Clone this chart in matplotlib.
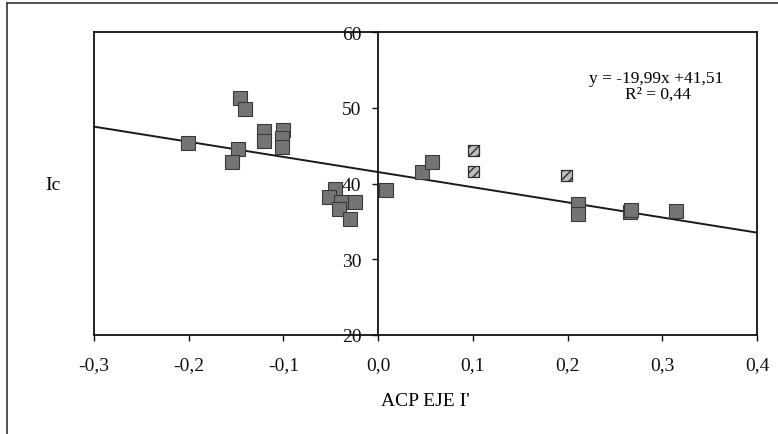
import numpy as np
import matplotlib.pyplot as plt
from matplotlib.lines import Line2D

# data
acp_x = [-0.201, -0.146, -0.141, -0.148, -0.154, -0.120, -0.121, -0.100, -0.101, -0.102,
         -0.046, -0.052, -0.039, -0.024, -0.041, -0.030, 0.008, 0.046, 0.057,
         0.211, 0.211, 0.266, 0.267, 0.315]
ic_y = [45.4, 51.3, 49.9, 44.6, 42.9, 46.9, 45.6, 47.1, 46.0, 44.8,
        39.3, 38.2, 37.6, 37.6, 36.7, 35.3, 39.2, 41.5, 42.8,
        37.3, 36.0, 36.3, 36.5, 36.4]
# lighter, hatched looking points
acp_x_light = [0.101, 0.101, 0.199]
ic_y_light = [44.3, 41.6, 41.0]

slope = -19.99
intercept = 41.51
x_ticks = [-0.3, -0.2, -0.1, 0.0, 0.1, 0.2, 0.3, 0.4]
y_ticks = [20, 30, 40, 50, 60]

plt.rcParams['font.family'] = ['Liberation Serif', 'DejaVu Serif']

fig = plt.figure(figsize=(7.78, 4.35), dpi=100)
ax = fig.add_axes([0.1208, 0.2276, 0.8522, 0.6965])

# regression line over the full x range
xl = np.array([x_ticks[0], x_ticks[-1]])
ax.plot(xl, slope * xl + intercept, color='#1a1a1a', lw=1.4, zorder=2)

ax.plot(acp_x, ic_y, ls='none', marker='s', ms=9.6, mfc='#747474', mec='#3a3a3a',
        mew=0.8, zorder=3)
ax.scatter(acp_x_light, ic_y_light, marker='s', s=62, facecolor='#bdbdbd',
           edgecolor='#2e2e2e', hatch='////', linewidths=0.9, zorder=3)

ax.set_xlim(x_ticks[0], x_ticks[-1])
ax.set_ylim(y_ticks[0], y_ticks[-1])
ax.set_xticks(x_ticks)
ax.set_yticks(y_ticks)
ax.set_xticklabels([f'{v:.1f}'.replace('.', ',') for v in x_ticks])
ax.set_yticklabels([str(v) for v in y_ticks])

# y axis crosses at x = 0, frame kept around the plot area
ax.spines['left'].set_position(('data', 0))
for s in ['top', 'right', 'bottom', 'left']:
    ax.spines[s].set_linewidth(1.3)
    ax.spines[s].set_color('#111111')
ax.plot([0, 0], [0, 1], transform=ax.transAxes, color='#111111', lw=1.3, clip_on=False)

ax.tick_params(axis='both', direction='out', length=4, width=1, colors='#111111',
               labelsize=14)
ax.tick_params(axis='x', pad=11)
ax.tick_params(axis='y', pad=8)

ax.text(0.294, 53.9, 'y = -19,99x +41,51', ha='center', va='center', fontsize=12.5)
ax.text(0.295, 51.9, 'R² = 0,44', ha='center', va='center', fontsize=12.5)

fig.text(53 / 778, 1 - 185 / 435, 'Ic', ha='center', va='center', fontsize=14)
fig.text(425 / 778, 1 - 402 / 435, "ACP EJE I'", ha='center', va='center', fontsize=14)

# outer chart border (only top and left survive in the scan)
fig.add_artist(Line2D([7 / 778, 7 / 778], [0, 1 - 4 / 435], color='#333333', lw=1.2))
fig.add_artist(Line2D([7 / 778, 1], [1 - 4 / 435, 1 - 4 / 435], color='#333333', lw=1.2))

fig.savefig('out.png', dpi=100)
